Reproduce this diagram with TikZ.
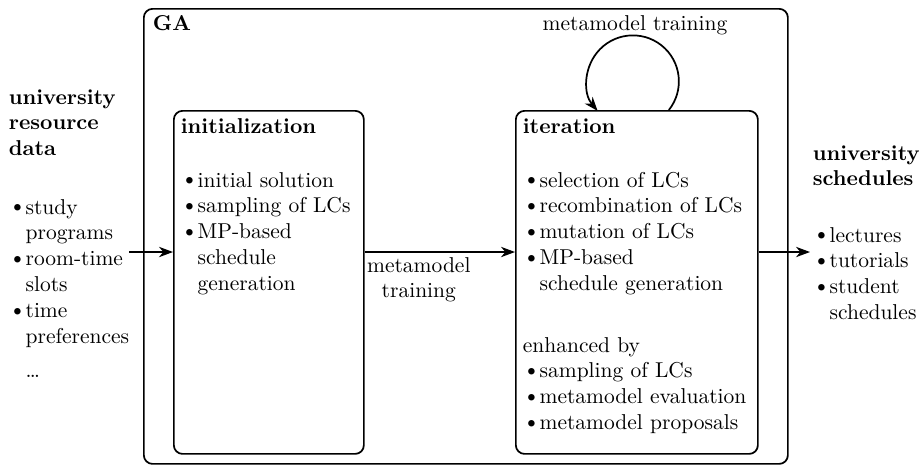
\documentclass[tikz,border=0pt]{standalone}
\usepackage{amsmath}
\usetikzlibrary{arrows.meta}
\tikzset{% arrow tips
    >={Stealth[length=6.5pt,width=4.8pt,inset=2pt]}
}
\begin{document}
\begin{tikzpicture}[x=0.465pt,y=-0.465pt,thick,
    box/.style={draw, rounded corners=4pt, inner sep=0, anchor=north west},
    txt/.style={inner sep=0, anchor=base west}]
	\newcommand{\px}{0.465pt}
	\newcommand{\bitem}{\hspace*{2pt}\makebox[5.8pt][l]{\raisebox{1pt}{$\scriptstyle\bullet$}}}
	\newcommand{\bcont}{\hspace*{7.8pt}}
	\newcommand{\arry}{252}

	\useasboundingbox (0,0) rectangle (921,465);

	% boxes
	\node[box, minimum width=644*\px, minimum height=455*\px] (ga) at (143,8) {};
	\node[box, minimum width=190*\px, minimum height=343*\px] (init) at (173,110) {};
	\node[box, minimum width=242*\px, minimum height=343*\px] (iter) at (515,110) {};

	% titles
	\node[txt] (gatitle) at (152,30) {\bfseries GA};
	\node[txt] (inittitle) at (180,133) {\bfseries initialization};
	\node[txt] (itertitle) at (522,133) {\bfseries iteration};

	% input data
	\node[txt] (srctitle) at (8,104) {\bfseries\begin{tabular}[t]{@{}l@{}}university\\resource\\data\end{tabular}};
	\node[txt] (srclist) at (8,214) {\begin{tabular}[t]{@{}l@{}}
		\bitem study\\ \bcont programs\\ \bitem room-time\\ \bcont slots\\
		\bitem time\\ \bcont preferences\\[4pt] \bcont\ldots\end{tabular}};

	% initialization
	\node[txt] (initlist) at (180,187) {\begin{tabular}[t]{@{}l@{}}
		\bitem initial solution\\ \bitem sampling of LCs\\ \bitem MP-based\\
		\bcont schedule\\ \bcont generation\end{tabular}};

	% iteration
	\node[txt] (iterlist) at (522,187) {\begin{tabular}[t]{@{}l@{}}
		\bitem selection of LCs\\ \bitem recombination of LCs\\ \bitem mutation of LCs\\
		\bitem MP-based\\ \bcont schedule generation\end{tabular}};
	\node[txt] (enhlist) at (522,352) {\begin{tabular}[t]{@{}l@{}}
		enhanced by\\ \bitem sampling of LCs\\ \bitem metamodel evaluation\\
		\bitem metamodel proposals\end{tabular}};

	% output schedules
	\node[txt] (outtitle) at (812,160) {\bfseries\begin{tabular}[t]{@{}l@{}}university\\schedules\end{tabular}};
	\node[txt] (outlist) at (812,242) {\begin{tabular}[t]{@{}l@{}}
		\bitem lectures\\ \bitem tutorials\\ \bitem student\\ \bcont schedules\end{tabular}};

	% arrows
	\coordinate (srcin) at (129,\arry);
	\coordinate (outend) at (810,\arry);
	\draw[->] (srcin) -- (srcin -| init.west);
	\draw[->] (init.east |- srcin) -- (iter.west |- srcin)
		node[pos=.36, below, inner sep=2pt, align=center] (trainlbl) {metamodel\\training};
	\draw[->] (iter.east |- srcin) -- (outend);

	% metamodel training loop
	\draw[->] ([xshift=32*\px]iter.north) arc[start angle=38.5, end angle=-220, radius=46];
	\node[inner sep=0, anchor=base] (looplbl) at (635,30) {metamodel training};
\end{tikzpicture}
\end{document}
